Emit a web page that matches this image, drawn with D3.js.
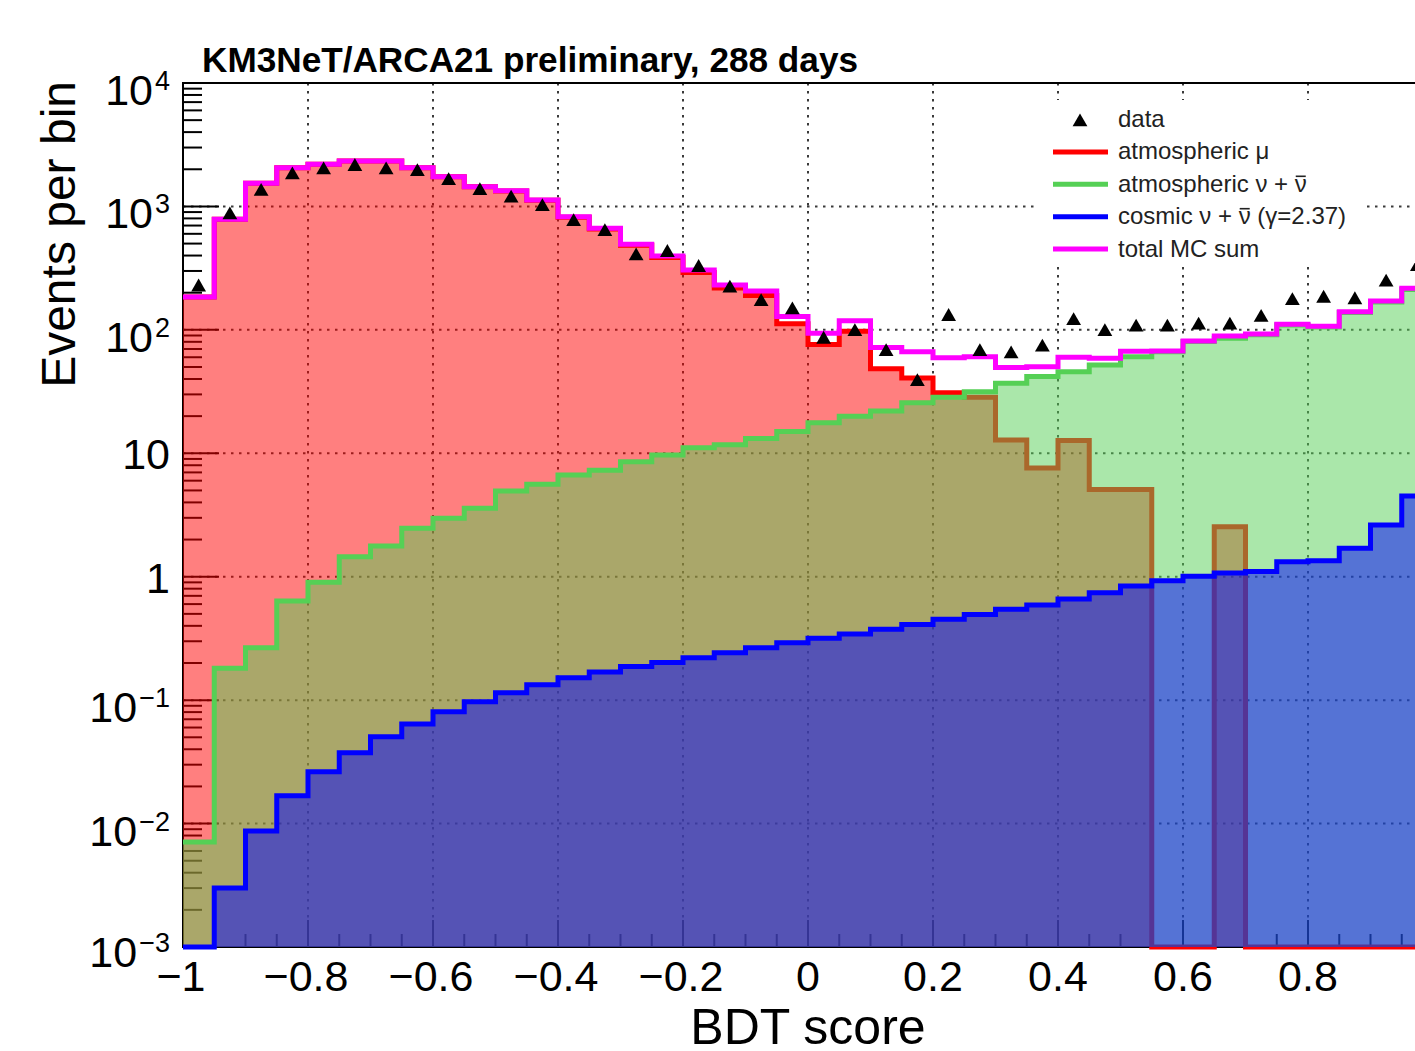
<!DOCTYPE html>
<html><head><meta charset="utf-8">
<script src="https://cdn.jsdelivr.net/npm/d3@7"></script>
<style>
body{margin:0;background:#fff;}
svg{display:block;font-family:"Liberation Sans",Arial,Helvetica,sans-serif;}
</style>
</head><body>
<svg id="c" width="1415" height="1051"></svg>
<script>
// ---------------- data ----------------
const binEdges = [-1,-0.95,-0.9,-0.85,-0.8,-0.75,-0.7,-0.65,-0.6,-0.55,-0.5,-0.45,-0.4,-0.35,-0.3,-0.25,-0.2,-0.15,-0.1,-0.05,
  0,0.05,0.1,0.15,0.2,0.25,0.3,0.35,0.4,0.45,0.5,0.55,0.6,0.65,0.7,0.75,0.8,0.85,0.9,0.95,1];

const atmMu = [185,787,1540,2059,2194,2331,2331,2057,1737,1441,1335,1121,819,657,484,386,292,218,190,112,
  76,97.5,48.5,40.7,31,28.4,12.8,7.6,12.7,5.1,5.1,0,0,2.54,0,0,0,0,0,0];

const atmNu = [0.0071,0.181,0.266,0.635,0.90,1.45,1.77,2.47,2.97,3.58,4.94,5.6,6.67,7.3,8.55,9.7,11.1,11.7,13.2,15.0,
  17.7,20.0,22.0,25.7,28.4,31.5,36.9,41.8,45.8,51.9,60.6,66.4,80.3,85.4,91.4,109.7,105.6,138.3,168.4,212.5];

const cosmicNu = [0.001,0.0030,0.0087,0.0168,0.0263,0.0375,0.0506,0.064,0.0805,0.097,0.115,0.133,0.152,0.169,0.187,0.202,0.221,0.242,0.266,0.292,
  0.317,0.344,0.375,0.411,0.452,0.495,0.544,0.59,0.659,0.743,0.84,0.929,1.01,1.07,1.10,1.32,1.35,1.70,2.62,4.5];

const totalMC = [185,787,1540,2060,2195,2333,2333,2060,1740,1445,1340,1127,826,665,493,396,306,231,206,128,
  93.8,118.6,71.8,66.5,59.5,60.5,49.5,50.3,59.9,59,67,67.4,81.3,89,92.5,111,107,140,171,217];

const dataCounts = [222,852,1320,1795,1970,2100,1970,1910,1615,1340,1165,995,752,624,396,422,319,217,169,145,
  83.7,96.6,66.5,38,128,66.5,63.7,72.2,118.6,96.6,105,105,109,109,126,172,180,175,243,325];

// tick labels visible in the picture (the label at 1 lies outside the visible area)
const xTicks = [-1,-0.8,-0.6,-0.4,-0.2,0,0.2,0.4,0.6,0.8];
const xTickLabels = ["\u22121","\u22120.8","\u22120.6","\u22120.4","\u22120.2","0","0.2","0.4","0.6","0.8"];
const yTicks = [1e-3,1e-2,1e-1,1,10,100,1000,10000];
const yTickBase = ["10","10","10","1","10","10","10","10"];
const yTickExp = ["\u22123","\u22122","\u22121","","","2","3","4"];

const titleText = "KM3NeT/ARCA21 preliminary, 288 days";
const xTitle = "BDT score";
const yTitle = "Events per bin";

// ---------------- layout ----------------
const L = 183, R = 1433, T = 83, B = 947;
const svg = d3.select("#c");
const x = d3.scaleLinear().domain([-1, 1]).range([L, R]);
const y = d3.scaleLog().domain([1e-3, 1e4]).range([B, T]);
const yv = v => (v <= 1e-3 ? B : Math.max(T, y(v)));

const COL = { red: "#ff0000", green: "#55d055", blue: "#0000ff", magenta: "#ff00ff" };

svg.append("defs").append("clipPath").attr("id","clip")
  .append("rect").attr("x", L).attr("y", T - 10).attr("width", R - L + 10).attr("height", B - T + 20);

// grid
const grid = svg.append("g").attr("stroke", "#3a3a3a").attr("stroke-width", 2).attr("stroke-dasharray", "2.5,5.5");
xTicks.filter(t => t > -1 && t < 1).forEach(t => {
  grid.append("line").attr("x1", x(t)).attr("x2", x(t)).attr("y1", T).attr("y2", B);
});
yTicks.filter(t => t > 1e-3 && t < 1e4).forEach(t => {
  grid.append("line").attr("x1", L).attr("x2", R).attr("y1", y(t)).attr("y2", y(t));
});

// axes lines and ticks
const ax = svg.append("g").attr("stroke", "#000").attr("stroke-width", 2);
ax.append("line").attr("x1", L).attr("x2", L).attr("y1", T - 1).attr("y2", B + 1);
ax.append("line").attr("x1", L - 1).attr("x2", R).attr("y1", B).attr("y2", B);
ax.append("line").attr("x1", L - 1).attr("x2", R).attr("y1", T).attr("y2", T);
for (let d = -3; d <= 4; d++) {
  const v = Math.pow(10, d);
  ax.append("line").attr("x1", L).attr("x2", L + 36).attr("y1", y(v)).attr("y2", y(v));
  if (d < 4) for (let m = 2; m <= 9; m++) {
    const vm = m * v;
    ax.append("line").attr("x1", L).attr("x2", L + 19).attr("y1", y(vm)).attr("y2", y(vm));
  }
}
d3.range(-1, 1.0001, 0.05).forEach((t, i) => {
  const major = i % 4 === 0;
  ax.append("line").attr("x1", x(t)).attr("x2", x(t)).attr("y1", B).attr("y2", B - (major ? 27 : 13));
});

// histogram helpers
const pts = vals => vals.map((v, i) => [binEdges[i], v]).concat([[binEdges[vals.length], vals[vals.length - 1]]]);
const stepLine = d3.line().x(d => x(d[0])).y(d => yv(d[1])).curve(d3.curveStepAfter);
const stepArea = d3.area().x(d => x(d[0])).y0(B).y1(d => yv(d[1])).curve(d3.curveStepAfter);

const plot = svg.append("g").attr("clip-path", "url(#clip)");
function hist(vals, col, fill) {
  if (fill) plot.append("path").attr("d", stepArea(pts(vals))).attr("fill", col).attr("fill-opacity", 0.5).attr("stroke", "none");
  plot.append("path").attr("d", stepLine(pts(vals))).attr("fill", "none").attr("stroke", col)
    .attr("stroke-width", 5).attr("stroke-linejoin", "miter").attr("stroke-linecap", "butt");
}
hist(atmMu, COL.red, true);
hist(atmNu, COL.green, true);
hist(cosmicNu, COL.blue, true);
hist(totalMC, COL.magenta, false);

// data points
const tri = d3.symbol().type(d3.symbolTriangle).size(95);
plot.selectAll("path.dp").data(dataCounts).enter().append("path").attr("class", "dp")
  .attr("d", tri)
  .attr("transform", (d, i) => `translate(${x((binEdges[i] + binEdges[i + 1]) / 2)},${y(d)})`)
  .attr("fill", "#000");

// tick labels
const xl = svg.append("g").attr("font-size", 43).attr("fill", "#000").attr("text-anchor", "middle");
xTicks.forEach((t, i) => {
  xl.append("text").attr("x", x(t) - (t < 0 ? 2 : 0)).attr("y", B + 44).text(xTickLabels[i]);
});
const yl = svg.append("g").attr("font-size", 43).attr("fill", "#000");
yTicks.forEach((t, i) => {
  const hasExp = yTickExp[i] !== "";
  const tx = yl.append("text").attr("x", 170).attr("y", y(t) + (hasExp ? (t < 1e-2 ? 20 : 22) : 16)).attr("text-anchor", "end");
  tx.append("tspan").text(yTickBase[i]);
  if (hasExp) tx.append("tspan").attr("dy", -15).attr("dx", 2).attr("font-size", 27).text(yTickExp[i]);
});

// titles
svg.append("text").attr("x", 202).attr("y", 72).attr("font-size", 35).attr("font-weight", "bold")
  .attr("textLength", 656).attr("lengthAdjust", "spacingAndGlyphs").text(titleText);
svg.append("text").attr("x", 808).attr("y", 1044).attr("font-size", 50).attr("text-anchor", "middle").text(xTitle);
svg.append("text").attr("transform", "translate(75,81) rotate(-90)").attr("font-size", 48)
  .attr("text-anchor", "end").text(yTitle);

// legend
const lg = svg.append("g");
lg.append("rect").attr("x", 1038).attr("y", 100).attr("width", 325).attr("height", 167).attr("fill", "#fff");
const legendRows = [
  { label: "data", type: "marker" },
  { label: "atmospheric \u03bc", col: COL.red },
  { label: "atmospheric \u03bd + \u03bd", col: COL.green, bar: 16 },
  { label: "cosmic \u03bd + \u03bd (\u03b3=2.37)", col: COL.blue, bar: 11 },
  { label: "total MC sum", col: COL.magenta }
];
legendRows.forEach((r, i) => {
  const base = 127 + 32.4 * i;
  if (r.type === "marker") {
    lg.append("path").attr("d", tri).attr("transform", `translate(1080,${base - 5})`).attr("fill", "#000");
  } else {
    lg.append("line").attr("x1", 1053).attr("x2", 1108).attr("y1", base - 7.5).attr("y2", base - 7.5)
      .attr("stroke", r.col).attr("stroke-width", 5);
  }
  const t = lg.append("text").attr("x", 1118).attr("y", base).attr("font-size", 24).attr("fill", "#222").text(r.label);
  if (r.bar !== undefined) {
    const e = t.node().getExtentOfChar(r.bar);
    lg.append("line").attr("x1", e.x + 1).attr("x2", e.x + e.width - 1)
      .attr("y1", base - 15.5).attr("y2", base - 15.5).attr("stroke", "#222").attr("stroke-width", 1.6);
  }
});
</script>
</body></html>
